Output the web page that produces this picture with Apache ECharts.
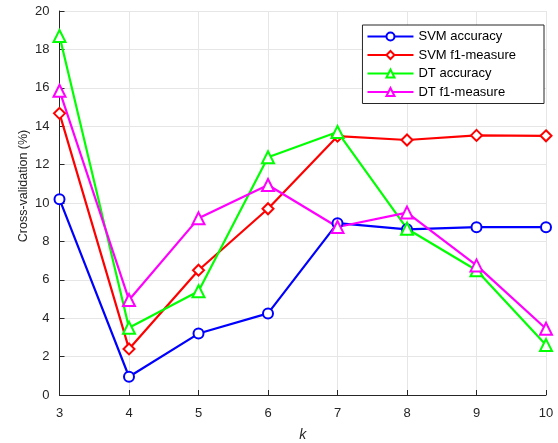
<!DOCTYPE html>
<html>
<head>
<meta charset="utf-8">
<script src="https://cdn.jsdelivr.net/npm/echarts@6/dist/echarts.min.js"></script>
<style>
  html, body { margin: 0; padding: 0; background: #fff; }
  #chart { width: 558px; height: 443px; }
</style>
</head>
<body>
<div id="chart"></div>
<script>
var kValues = [3, 4, 5, 6, 7, 8, 9, 10];
var svmAccuracy = [10.2, 0.95, 3.2, 4.25, 8.95, 8.63, 8.74, 8.74];
var svmF1 = [14.67, 2.4, 6.5, 9.7, 13.48, 13.28, 13.52, 13.5];
var dtAccuracy = [18.7, 3.5, 5.4, 12.38, 13.7, 8.66, 6.5, 2.6];
var dtF1 = [15.85, 4.95, 9.2, 10.94, 8.75, 9.5, 6.75, 3.45];
var seriesNames = ['SVM accuracy', 'SVM f1-measure', 'DT accuracy', 'DT f1-measure'];

var axisColor = '#262626';
var gridColor = '#e6e6e6';
var font = 'Liberation Sans, Arial, sans-serif';

function pairs(vals) {
  return vals.map(function(v, i) { return [kValues[i], v]; });
}

function makeSeries(name, vals, color, symbol, size) {
  return {
    name: name,
    type: 'line',
    data: pairs(vals),
    symbol: symbol,
    symbolSize: size,
    showAllSymbol: true,
    lineStyle: { color: color, width: 2.2 },
    itemStyle: { color: '#fff', borderColor: color, borderWidth: 2 },
    emphasis: { disabled: true }
  };
}

var chart = echarts.init(document.getElementById('chart'), null, { renderer: 'canvas' });
chart.setOption({
  animation: false,
  textStyle: { fontFamily: font },
  grid: { left: 59.5, right: 12, top: 11, bottom: 48, outerBoundsMode: 'none', containLabel: false },
  legend: {
    orient: 'vertical',
    right: 14,
    top: 25,
    data: seriesNames,
    itemWidth: 46,
    itemHeight: 10,
    itemGap: 5.5,
    padding: [5, 28, 5, 4],
    borderColor: '#262626',
    borderWidth: 1,
    backgroundColor: '#fff',
    textStyle: { color: '#000', fontSize: 13, fontFamily: font }
  },
  xAxis: {
    type: 'value',
    min: 3,
    max: 10,
    interval: 1,
    name: 'k',
    nameLocation: 'middle',
    nameGap: 33,
    nameTextStyle: { color: axisColor, fontSize: 14, fontStyle: 'italic', fontFamily: font },
    axisLine: { lineStyle: { color: axisColor, width: 1 } },
    axisTick: { inside: true, length: 5, lineStyle: { color: axisColor } },
    axisLabel: { color: axisColor, fontSize: 13, margin: 12 },
    splitLine: { show: true, lineStyle: { color: gridColor, width: 1 } }
  },
  yAxis: {
    type: 'value',
    min: 0,
    max: 20,
    interval: 2,
    name: 'Cross-validation (%)',
    nameLocation: 'middle',
    nameGap: 29,
    nameMoveOverlap: false,
    nameTextStyle: { color: axisColor, fontSize: 12.5, fontFamily: font, padding: [0, 0, 0, 34] },
    axisLine: { show: true, lineStyle: { color: axisColor, width: 1 } },
    axisTick: { show: true, inside: true, length: 5, lineStyle: { color: axisColor } },
    axisLabel: { color: axisColor, fontSize: 13, margin: 10 },
    splitLine: { show: true, lineStyle: { color: gridColor, width: 1 } }
  },
  series: [
    makeSeries(seriesNames[0], svmAccuracy, '#0000ff', 'circle', 10),
    makeSeries(seriesNames[1], svmF1, '#ff0000', 'diamond', 11),
    makeSeries(seriesNames[2], dtAccuracy, '#00ff00', 'triangle', 12),
    makeSeries(seriesNames[3], dtF1, '#ff00ff', 'triangle', 12)
  ]
});
</script>
</body>
</html>
